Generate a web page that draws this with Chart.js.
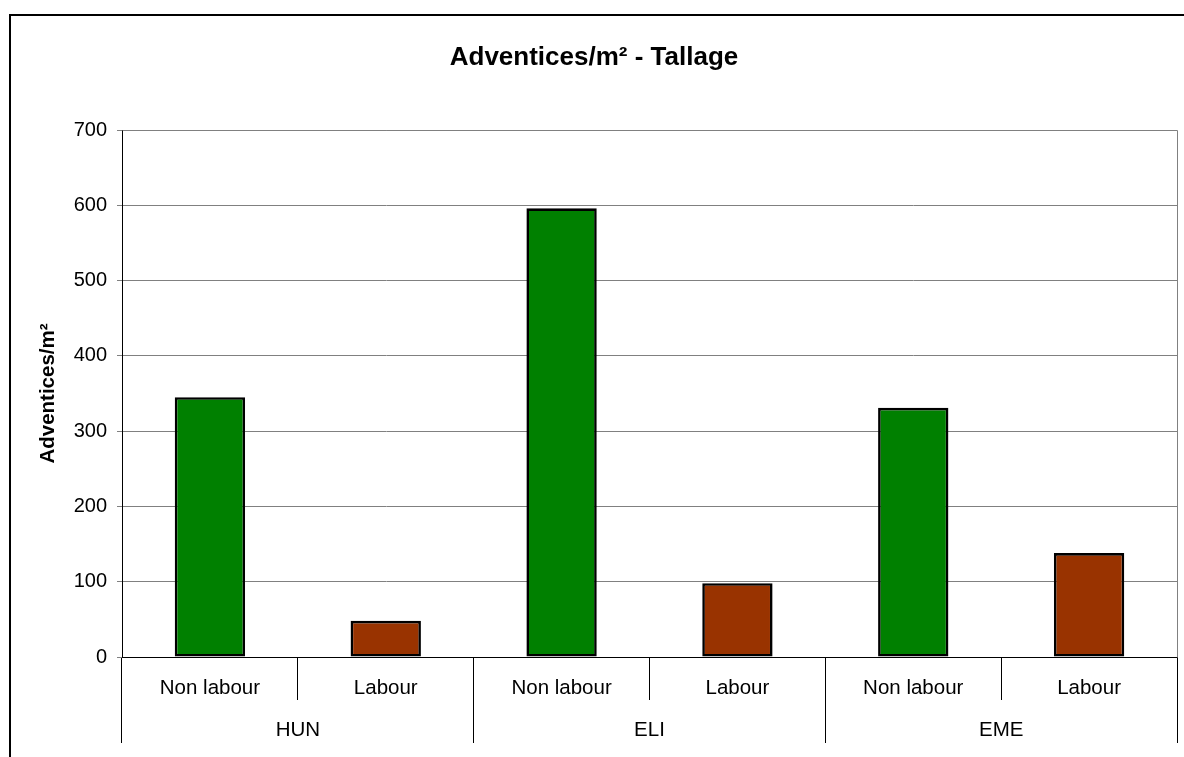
<!DOCTYPE html>
<html>
<head>
<meta charset="utf-8">
<script src="https://cdn.jsdelivr.net/npm/chart.js@4.4.1/dist/chart.umd.min.js"></script>
<style>
  html, body { margin: 0; padding: 0; background: #fff; overflow: hidden; width: 1184px; height: 757px; }
  #frame { position: absolute; left: 9px; top: 14px; border: 2px solid #000; width: 1190px; height: 760px; background: #fff; }
  #c { display: block; }
</style>
</head>
<body>
<div id="frame"><canvas id="c" width="1190" height="760"></canvas></div>
<script>
// ---- data ----
const groups = ['HUN', 'ELI', 'EME'];
const treatments = ['Non labour', 'Labour'];
const nonLabour = [345, 596, 331];
const labour = [48, 98, 138];
const yTicks = [0, 100, 200, 300, 400, 500, 600, 700];
const chartTitle = 'Adventices/m² - Tallage';
const yTitle = 'Adventices/m²';

// ---- build ----
const categories = [];
const values = [];
const colors = [];
const treatmentColors = ['#008000', '#993300'];
groups.forEach((g, i) => {
  categories.push(treatments[0]); values.push(nonLabour[i]); colors.push(treatmentColors[0]);
  categories.push(treatments[1]); values.push(labour[i]); colors.push(treatmentColors[1]);
});

const FONT = "'Liberation Sans', Arial, sans-serif";

const plotBorder = {
  id: 'plotBorder',
  afterDraw(chart) {
    const { ctx, chartArea: a } = chart;
    ctx.save();
    ctx.strokeStyle = '#808080';
    ctx.lineWidth = 1;
    ctx.beginPath();
    ctx.moveTo(Math.round(a.left) + 0.5, Math.round(a.top) + 0.5);
    ctx.lineTo(Math.round(a.right) + 0.5, Math.round(a.top) + 0.5);
    ctx.lineTo(Math.round(a.right) + 0.5, Math.round(a.bottom) + 0.5);
    ctx.stroke();
    ctx.restore();
  }
};

new Chart(document.getElementById('c'), {
  type: 'bar',
  data: {
    labels: categories,
    datasets: [{
      data: values,
      backgroundColor: colors,
      borderColor: '#000',
      borderWidth: 2.6,
      borderSkipped: false,
      barPercentage: 0.4,
      categoryPercentage: 1.0
    }]
  },
  options: {
    responsive: false,
    animation: false,
    events: [],
    layout: { padding: { left: 0, right: 24, top: 0, bottom: 33 } },
    plugins: {
      legend: { display: false },
      tooltip: { enabled: false },
      title: {
        display: true,
        text: chartTitle,
        color: '#000',
        font: { family: FONT, size: 26, weight: 'bold' },
        padding: { top: 26, bottom: 56.8 }
      }
    },
    scales: {
      x: {
        type: 'category',
        position: 'bottom',
        weight: 0,
        offset: true,
        grid: { offset: true, drawOnChartArea: false, drawTicks: true, tickLength: 43, tickColor: '#000', lineWidth: 1 },
        border: { display: true, color: '#000' },
        ticks: { color: '#000', font: { family: FONT, size: 20.5 }, padding: -24, maxRotation: 0, autoSkip: false },
        afterFit(axis) { axis.height = 43; }
      },
      x2: {
        type: 'category',
        labels: groups,
        position: 'bottom',
        weight: 1,
        offset: true,
        grid: { offset: true, drawOnChartArea: false, drawTicks: true, tickLength: 43, tickColor: '#000', lineWidth: 1 },
        border: { display: false },
        ticks: { color: '#000', font: { family: FONT, size: 20.5 }, padding: -25, maxRotation: 0, autoSkip: false },
        afterFit(axis) { axis.height = 43; }
      },
      y: {
        min: 0,
        max: 700,
        afterBuildTicks(axis) { axis.ticks = yTicks.map(v => ({ value: v })); },
        grid: { color: '#808080', tickColor: '#808080', tickLength: 5, lineWidth: 1 },
        border: { display: true, color: '#000' },
        ticks: { color: '#000', font: { family: FONT, size: 20 }, padding: 10 },
        title: {
          display: true,
          text: yTitle,
          color: '#000',
          font: { family: FONT, size: 20.5, weight: 'bold' },
          padding: { top: 25, bottom: 0 }
        },
        afterFit(axis) { axis.width = 111; }
      }
    }
  },
  plugins: [plotBorder]
});
</script>
</body>
</html>
